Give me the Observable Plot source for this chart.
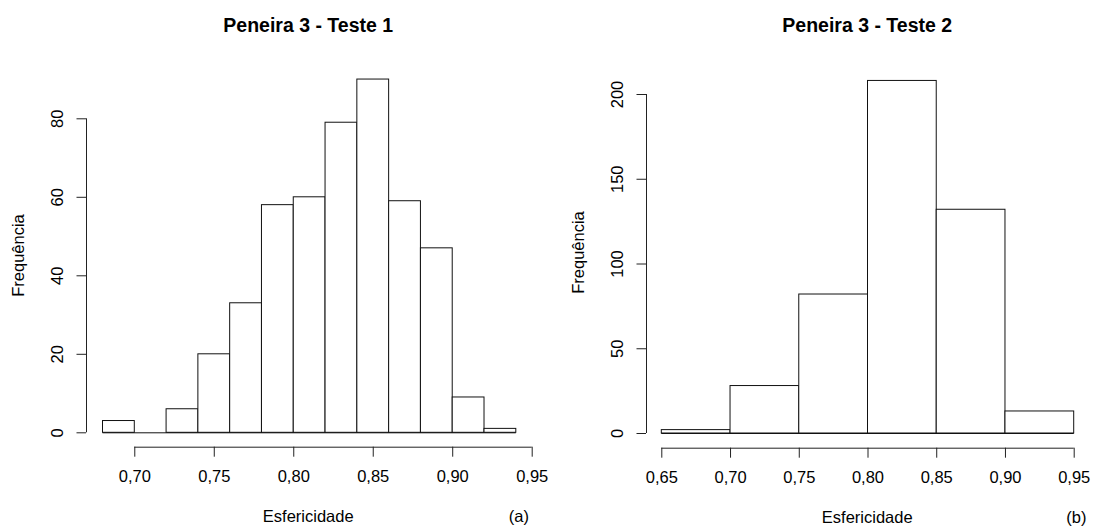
<!DOCTYPE html>
<html>
<head>
<meta charset="utf-8">
<script src="https://cdn.jsdelivr.net/npm/d3@7"></script>
<script src="https://cdn.jsdelivr.net/npm/@observablehq/plot@0.6"></script>
<style>
  html, body { margin: 0; padding: 0; background: #fff; }
  #wrap { position: relative; width: 1099px; height: 527px; overflow: hidden; }
  #wrap > svg { position: absolute; top: 0; }
</style>
</head>
<body>
<div id="wrap"></div>
<script>
// ---- Data ----
const titleA = "Peneira 3 - Teste 1";
const titleB = "Peneira 3 - Teste 2";
const xLabel = "Esfericidade";
const yLabel = "Frequência";

// Panel (a): bin edges and counts
const edgesA = [0.68, 0.70, 0.72, 0.74, 0.76, 0.78, 0.80, 0.82, 0.84, 0.86, 0.88, 0.90, 0.92, 0.94];
const countsA = [3, 0, 6, 20, 33, 58, 60, 79, 90, 59, 47, 9, 1];
const xTicksA = [0.70, 0.75, 0.80, 0.85, 0.90, 0.95];
const yTicksA = [0, 20, 40, 60, 80];

// Panel (b): bin edges and counts
const edgesB = [0.65, 0.70, 0.75, 0.80, 0.85, 0.90, 0.95];
const countsB = [2, 28, 82, 208, 132, 13];
const xTicksB = [0.65, 0.70, 0.75, 0.80, 0.85, 0.90, 0.95];
const yTicksB = [0, 50, 100, 150, 200];

const fmt = d => d.toFixed(2).replace(".", ",");
const FONT = "'Liberation Sans', Arial, Helvetica, sans-serif";
const FS = 16.5;

function bins(edges, counts) {
  return counts.map((c, i) => ({x1: edges[i], x2: edges[i + 1], count: c}));
}

function histPanel(cfg) {
  const data = bins(cfg.edges, cfg.counts);
  return Plot.plot({
    width: cfg.width,
    height: 527,
    marginLeft: cfg.margin.left,
    marginRight: cfg.margin.right,
    marginTop: cfg.margin.top,
    marginBottom: cfg.margin.bottom,
    style: {fontFamily: FONT, fontSize: FS + "px", color: "#000", background: "transparent", overflow: "visible"},
    x: {domain: [cfg.edges[0], cfg.xTicks[cfg.xTicks.length - 1]], range: cfg.xRange, axis: null},
    y: {domain: [0, cfg.yTicks[cfg.yTicks.length - 1]], range: cfg.yRange, axis: null},
    marks: [
      // bars
      Plot.rectY(data, {x1: "x1", x2: "x2", y: "count", fill: "white", stroke: "#111", strokeWidth: 1}),
      // baseline under all bars (R draws bottoms of empty bins too)
      Plot.ruleY([0], {x1: cfg.edges[0], x2: cfg.edges[cfg.edges.length - 1], stroke: "#111", strokeWidth: 1}),
      // x axis line + ticks + labels
      Plot.ruleY([0], {x1: cfg.xTicks[0], x2: cfg.xTicks[cfg.xTicks.length - 1], dy: cfg.xAxisDy, stroke: "#222", strokeWidth: 1}),
      Plot.axisX(cfg.xTicks, {tickSize: 10, tickPadding: 13.5, tickFormat: fmt, label: null, stroke: "#222", fontSize: FS}),
      // y axis line + ticks + labels
      Plot.ruleX([cfg.edges[0]], {y1: cfg.yTicks[0], y2: cfg.yTicks[cfg.yTicks.length - 1], dx: cfg.yAxisDx, stroke: "#222", strokeWidth: 1}),
      Plot.axisY(cfg.yTicks, {tickSize: 9.5, tickFormat: () => "", label: null, stroke: "#222"}),
      Plot.text(cfg.yTicks, {y: d => d, text: d => String(d), frameAnchor: "left", dx: -29, rotate: -90,
        textAnchor: "middle", lineAnchor: "middle", fontSize: FS, fill: "#000"}),
      // axis titles
      Plot.text([xLabel], {text: d => d, frameAnchor: "bottom", dy: 69.5, lineAnchor: "middle", fontSize: FS, fill: "#000"}),
      Plot.text([yLabel], {text: d => d, frameAnchor: "left", dx: cfg.yLabelDx, rotate: -90, textAnchor: "middle",
        lineAnchor: "middle", fontSize: FS, fill: "#000"}),
      // panel title
      Plot.text([cfg.title], {text: d => d, frameAnchor: "top", dy: cfg.titleDy, lineAnchor: "middle",
        fontSize: 19.5, fontWeight: "bold", fill: "#000"}),
      // panel tag
      Plot.text([cfg.tag], {text: d => d, frameAnchor: "bottom-right", dx: cfg.tagDx, dy: 69.5, textAnchor: "middle",
        lineAnchor: "middle", fontSize: FS, fill: "#000"})
    ]
  });
}

const wrap = document.getElementById("wrap");

const a = histPanel({
  width: 550,
  edges: edgesA, counts: countsA, xTicks: xTicksA, yTicks: yTicksA,
  margin: {left: 86, right: 20.6, top: 63.3, bottom: 80.3},
  xRange: [102.5, 531.7], yRange: [432.3, 118.3],
  xAxisDy: 14.4, yAxisDx: -16.5, yLabelDx: -67.7, titleDy: -38.3, tagDx: -11,
  title: titleA, tag: "(a)"
});
a.style.left = "0px";
wrap.appendChild(a);

const b = histPanel({
  width: 549,
  edges: edgesB, counts: countsB, xTicks: xTicksB, yTicks: yTicksB,
  margin: {left: 96, right: 11.6, top: 56.3, bottom: 79.3},
  xRange: [111.3, 523.7], yRange: [433, 94],
  xAxisDy: 14.7, yAxisDx: -15.3, yLabelDx: -68, titleDy: -31.3, tagDx: -11.6,
  title: titleB, tag: "(b)"
});
b.style.left = "550px";
wrap.appendChild(b);
</script>
</body>
</html>
